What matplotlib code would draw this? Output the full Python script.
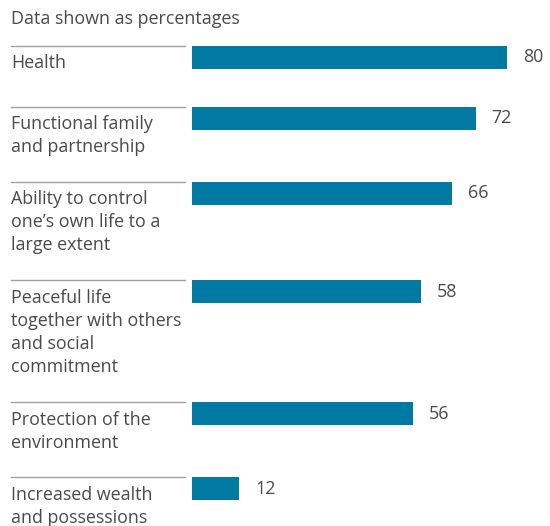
import matplotlib.pyplot as plt
import matplotlib.transforms as mtransforms

plt.rcParams['font.family'] = ['Open Sans', 'DejaVu Sans']

labels = [
  "Health",
  "Functional family\nand partnership",
  "Ability to control\none\u2019s own life to a\nlarge extent",
  "Peaceful life\ntogether with others\nand social\ncommitment",
  "Protection of the\nenvironment",
  "Increased wealth\nand possessions",
]
values = [80, 72, 66, 58, 56, 12]
title = "Data shown as percentages"

bar_color = '#0079a3'
text_color = '#4a4a4a'
rule_color = '#a0a0a0'

W, H = 550, 526
px_per_pct = 3.94
x0 = 192          # left edge of the bars, px
bar_h = 23
line_h = 23.5
gap = 28
fs = 12.9

fig = plt.figure(figsize=(W / 100, H / 100), dpi=100)
ax = fig.add_axes([x0 / W, 0, (W - x0) / W, 1])
ax.set_xlim(0, (W - x0) / px_per_pct)
ax.set_ylim(H, 0)
ax.axis('off')

# each row's top follows from how many lines its label needs
tops = []
y = 46
for lab in labels:
  tops.append(y)
  n = lab.count('\n') + 1
  y += line_h * max(n, 1.4) + gap

centers = [t + bar_h / 2 for t in tops]
ax.barh(centers, values, height=bar_h, color=bar_color, edgecolor='none')

blend = mtransforms.blended_transform_factory(fig.transFigure, ax.transData)
for t, c, lab, v in zip(tops, centers, labels, values):
  ax.plot([11 / W, 185 / W], [t, t], color=rule_color, lw=1.0, transform=blend, clip_on=False)
  ax.text(11 / W, t + 8.5, lab, transform=blend, ha='left', va='top',
          fontsize=fs, color=text_color, linespacing=1.35)
  ax.annotate(str(v), (v, c), xytext=(11.5, 0), textcoords='offset points',
              ha='left', va='center', fontsize=fs, color=text_color)

fig.text(11 / W, 1 - 10 / H, title, ha='left', va='top', fontsize=fs, color=text_color)

fig.savefig('out.png', dpi=100)
